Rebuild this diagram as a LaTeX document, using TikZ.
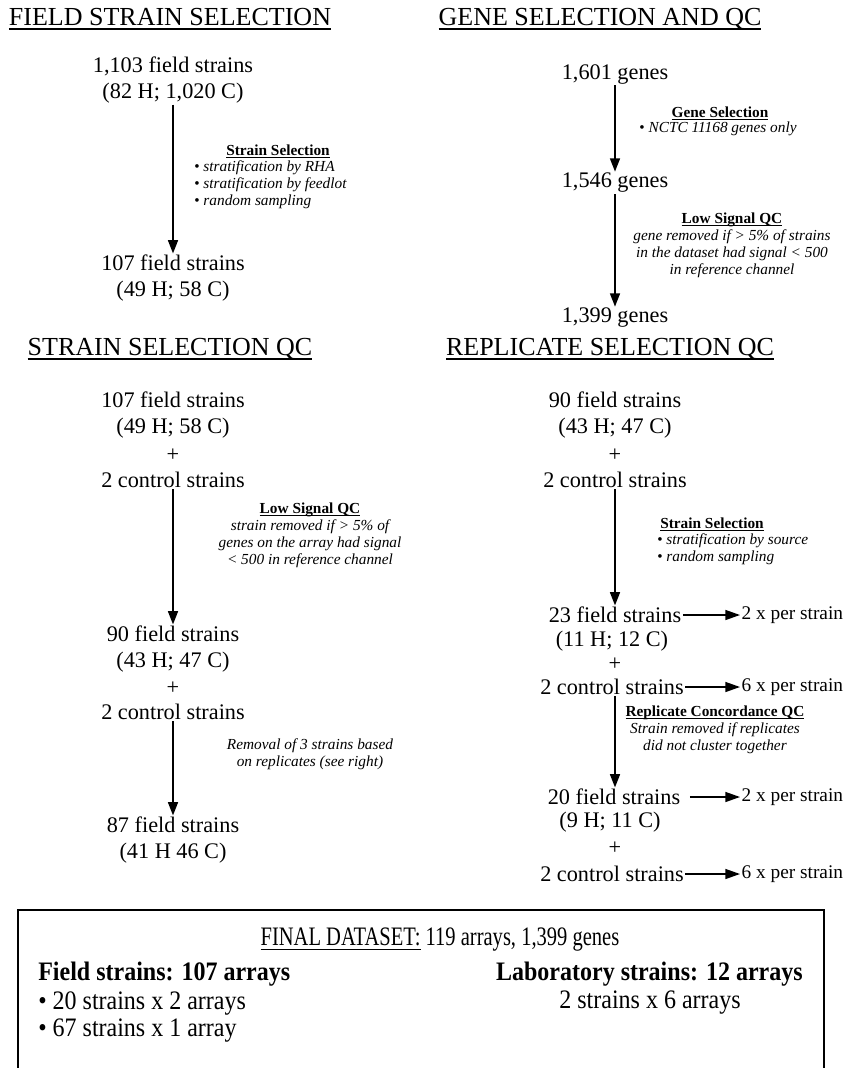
\documentclass[tikz,border=0pt]{standalone}
\usepackage{fontspec}
\setmainfont{Liberation Serif}
\newfontfamily\narrowrm{Liberation Serif}[FakeStretch=0.9]
\newfontfamily\titlerm{Liberation Serif}[FakeStretch=0.77]
\newcommand{\ulx}[1]{\leavevmode\setbox0\hbox{#1}\rlap{\rule[-0.17em]{\wd0}{0.065em}}\box0\relax}
\usetikzlibrary{arrows.meta}
\begin{document}
\begin{tikzpicture}[x=0.75pt,y=-0.75pt,
    head/.style={font=\fontsize{19.5}{24}\selectfont,inner sep=0pt},
    big/.style={font=\fontsize{16.7}{20}\selectfont,inner sep=1pt},
    small/.style={font=\fontsize{14.5}{17}\selectfont,inner sep=1pt},
    notetitle/.style={font=\fontsize{11.5}{13}\selectfont\bfseries,inner sep=0pt},
    note/.style={font=\fontsize{11.5}{12.8}\selectfont\itshape,inner sep=0pt},
    boxtext/.style={font=\fontsize{20}{24}\narrowrm,inner sep=0pt},
    flow/.style={-{Triangle[length=10pt,width=7.5pt]},line width=1.2pt},
    side/.style={-{Triangle[length=11pt,width=7.5pt]},line width=1pt}]
  \useasboundingbox (0,0) rectangle (843,1068);
  \clip (0,0) rectangle (843,1068);
  % field strain selection
  \node[head] (h1) at (170,19) {\ulx{FIELD STRAIN SELECTION}};
  \node[big] (a1) at (173,66) {1,103 field strains};
  \node[big] (a2) at (173,93) {(82 H; 1,020 C)};
  \node[big] (a3) at (173,263) {107 field strains};
  \node[big] (a4) at (173,291) {(49 H; 58 C)};
  \draw[flow] (a2.south) -- (a3.north);
  \node[notetitle] (n1) at (278,151) {\ulx{Strain Selection}};
  \node[note,align=left,anchor=north west] (n1b) at (194,160)
    {\textup{•} stratification by RHA\\ \textup{•} stratification by feedlot\\ \textup{•} random sampling};
  % gene selection
  \node[head] (h2) at (600,19) {\ulx{GENE SELECTION AND QC}};
  \node[big] (b1) at (615,74) {1,601 genes};
  \node[big] (b2) at (615,183) {1,546 genes};
  \node[big] (b3) at (615,318) {1,399 genes};
  \draw[flow] (b1.south) -- (b2.north);
  \draw[flow] (b2.south) -- (b3.north);
  \node[notetitle] (n2) at (720,113) {\ulx{Gene Selection}};
  \node[note] (n2b) at (718,129) {\textup{•} NCTC 11168 genes only};
  \node[notetitle] (n3) at (732,220) {\ulx{Low Signal QC}};
  \node[note,align=center,anchor=north] (n3b) at (732,229)
    {gene removed if > 5\% of strains\\ in the dataset had signal < 500\\ in reference channel};
  % strain selection qc
  \node[head] (h3) at (170,349) {\ulx{STRAIN SELECTION QC}};
  \node[big] (c1) at (173,400) {107 field strains};
  \node[big] (c2) at (173,428) {(49 H; 58 C)};
  \node[big] (c3) at (173,455) {+};
  \node[big] (c4) at (173,480) {2 control strains};
  \node[big] (c5) at (173,634) {90 field strains};
  \node[big] (c6) at (173,662) {(43 H; 47 C)};
  \node[big] (c7) at (173,688) {+};
  \node[big] (c8) at (173,712) {2 control strains};
  \node[big] (c9) at (173,825) {87 field strains};
  \node[big] (c10) at (173,853) {(41 H 46 C)};
  \draw[flow] (c4.south) -- (c5.north);
  \draw[flow] (c8.south) -- (c9.north);
  \node[notetitle] (n4) at (310,510) {\ulx{Low Signal QC}};
  \node[note,align=center,anchor=north] (n4b) at (310,519)
    {strain removed if > 5\% of\\ genes on the array had signal\\ < 500 in reference channel};
  \node[note,align=center] (n5) at (310,754)
    {Removal of 3 strains based\\ on replicates (see right)};
  % replicate selection qc
  \node[head] (h4) at (610,349) {\ulx{REPLICATE SELECTION QC}};
  \node[big] (d1) at (615,400) {90 field strains};
  \node[big] (d2) at (615,428) {(43 H; 47 C)};
  \node[big] (d3) at (615,455) {+};
  \node[big] (d4) at (615,480) {2 control strains};
  \node[big] (d5) at (615,615) {23 field strains};
  \node[big] (d6) at (612,641) {(11 H; 12 C)};
  \node[big] (d7) at (615,664) {+};
  \node[big] (d8) at (612,687) {2 control strains};
  \node[big] (d9) at (614,797) {20 field strains};
  \node[big] (d10) at (610,822) {(9 H; 11 C)};
  \node[big] (d11) at (615,848) {+};
  \node[big] (d12) at (612,874) {2 control strains};
  \draw[flow] (d4.south) -- (d5.north);
  \draw[flow] (d8.south -| d4) -- (d9.north -| d4);
  \node[small,anchor=west] (x1) at (740,615) {2 x per strain};
  \node[small,anchor=west] (x2) at (740,687) {6 x per strain};
  \node[small,anchor=west] (x3) at (740,797) {2 x per strain};
  \node[small,anchor=west] (x4) at (740,874) {6 x per strain};
  \draw[side] (d5.east) -- (x1.west);
  \draw[side] (d8.east) -- (x2.west);
  \draw[side,shorten <=6pt] (d9.east) -- (x3.west);
  \draw[side] (d12.east) -- (x4.west);
  \node[notetitle] (n6) at (712,524) {\ulx{Strain Selection}};
  \node[note,align=left,anchor=north west] (n6b) at (657,533)
    {\textup{•} stratification by source\\ \textup{•} random sampling};
  \node[notetitle] (n7) at (715,713) {\ulx{Replicate Concordance QC}};
  \node[note,align=center,anchor=north] (n7b) at (715,722)
    {Strain removed if replicates\\ did not cluster together};
  % final dataset
  \draw[line width=0.9pt] (18,910) rectangle (824,1090);
  \node[boxtext,font=\fontsize{20}{24}\titlerm] (t0) at (440,940) {\ulx{FINAL DATASET:} 119 arrays, 1,399 genes};
  \node[boxtext,font=\fontsize{20}{24}\narrowrm\bfseries,anchor=west] (t1) at (38,974) {Field strains: 107 arrays};
  \node[boxtext,anchor=west] (t2) at (38,1003) {• 20 strains x 2 arrays};
  \node[boxtext,anchor=west] (t3) at (38,1031) {• 67 strains x 1 array};
  \node[boxtext,font=\fontsize{20}{24}\narrowrm\bfseries,anchor=east] (t4) at (803,974) {Laboratory strains: 12 arrays};
  \node[boxtext] (t5) at (650,1003) {2 strains x 6 arrays};
\end{tikzpicture}
\end{document}
